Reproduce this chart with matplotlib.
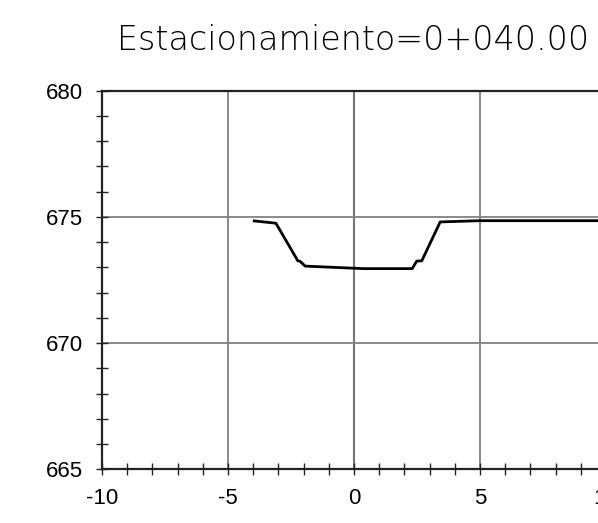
import matplotlib
matplotlib.use("Agg")
import matplotlib.pyplot as plt
from matplotlib.ticker import MultipleLocator

plt.rcParams['axes.unicode_minus'] = False
plt.rcParams['font.family'] = ['Liberation Sans', 'DejaVu Sans']

title = "Estacionamiento=0+040.00"
offset = [-3.96, -3.10, -2.23, -2.14, -1.94, 0.37, 2.31, 2.49, 2.69, 3.42, 5.00, 10.00]
elev = [674.84, 674.75, 673.26, 673.24, 673.05, 672.95, 672.95, 673.25, 673.26, 674.80, 674.85, 674.85]
xlim = (-10, 10)
ylim = (665, 680)

fig = plt.figure(figsize=(5.98, 5.23), dpi=100)
ax = fig.add_axes([0.1706, 0.1027, 0.8428, 0.7239])
ax.set_xlim(*xlim)
ax.set_ylim(*ylim)

ax.xaxis.set_major_locator(MultipleLocator(5))
ax.xaxis.set_minor_locator(MultipleLocator(1))
ax.yaxis.set_major_locator(MultipleLocator(5))
ax.yaxis.set_minor_locator(MultipleLocator(1))

ax.grid(True, which='major', color='#808080', linewidth=1.3)
ax.axvline(0, color='#222222', linewidth=1.5, zorder=1.5)

ax.plot(offset, elev, color='black', linewidth=2.0, zorder=3)

for s in ['left', 'bottom', 'top']:
    ax.spines[s].set_linewidth(1.6)
    ax.spines[s].set_color('#222222')
ax.spines['right'].set_visible(False)

ax.tick_params(which='both', direction='inout', color='#222222', width=1.0)
ax.tick_params(which='major', length=8, labelsize=16)
ax.tick_params(which='minor', length=8)
ax.tick_params(axis='x', which='major', pad=9.5)
ax.tick_params(axis='y', which='major', pad=10)

fig.text(0.591, 0.922, title, ha='center', va='center', fontsize=24,
         fontfamily='DejaVu Sans', fontweight='light')

fig.savefig('out.png', dpi=100)
